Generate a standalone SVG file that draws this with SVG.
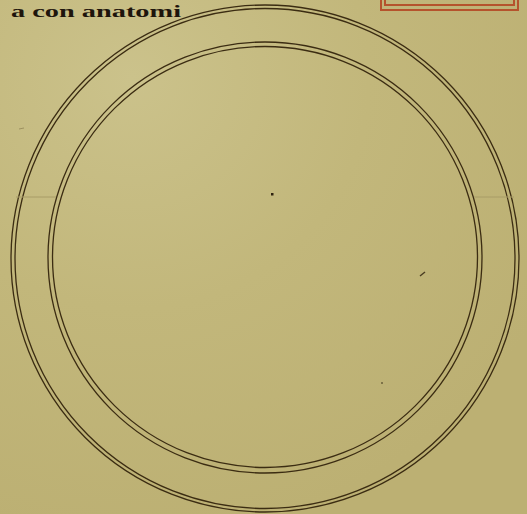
<svg xmlns="http://www.w3.org/2000/svg" width="527" height="514" viewBox="0 0 527 514">
<defs>
<radialGradient id="bg" cx="0.25" cy="0.15" r="0.9">
<stop offset="0" stop-color="#cbc28b"/>
<stop offset="0.5" stop-color="#c2b77b"/>
<stop offset="1" stop-color="#bcb073"/>
</radialGradient>
<style>
.ring{fill:none;stroke:#3b2c12;stroke-width:1.3}
.faint{fill:none;stroke:#a89c66;stroke-width:1}
.red{fill:none;stroke:#b5532c;stroke-width:2}
.title{font-family:"Liberation Serif",serif;font-weight:bold;font-size:17px;fill:#1e150c}
</style>
</defs>
<rect x="0" y="0" width="527" height="514" fill="url(#bg)"/>
<text class="title" x="11" y="17" textLength="170" lengthAdjust="spacingAndGlyphs">a con anatomi</text>
<g id="label-box">
<rect class="red" x="381" y="-6" width="137" height="16"/>
<rect class="red" x="385" y="-6" width="129" height="11" stroke-width="1.3"/>
</g>
<g id="outer-ring">
<ellipse class="ring" cx="265" cy="258.5" rx="254" ry="253.5" stroke="#4a2a18"/>
<ellipse class="ring" cx="265" cy="258.5" rx="250" ry="250"/>
</g>
<g id="inner-ring">
<ellipse class="ring" cx="265" cy="257.5" rx="217" ry="215.5"/>
<ellipse class="ring" cx="265" cy="257" rx="212.5" ry="210.5"/>
</g>
<g id="connectors">
<line class="faint" x1="16" y1="197" x2="56" y2="197"/>
<line class="faint" x1="474" y1="197" x2="514" y2="197"/>
</g>
<g id="marks" fill="#2e2210">
<rect x="271" y="193" width="2.5" height="2.5"/>
<line x1="420" y1="276" x2="425" y2="272" stroke="#4a3d22" stroke-width="1.5"/>
<circle cx="382" cy="383" r="0.8"/>
<line x1="19" y1="129" x2="24" y2="128" stroke="#9d9160" stroke-width="1"/>
</g>
</svg>
